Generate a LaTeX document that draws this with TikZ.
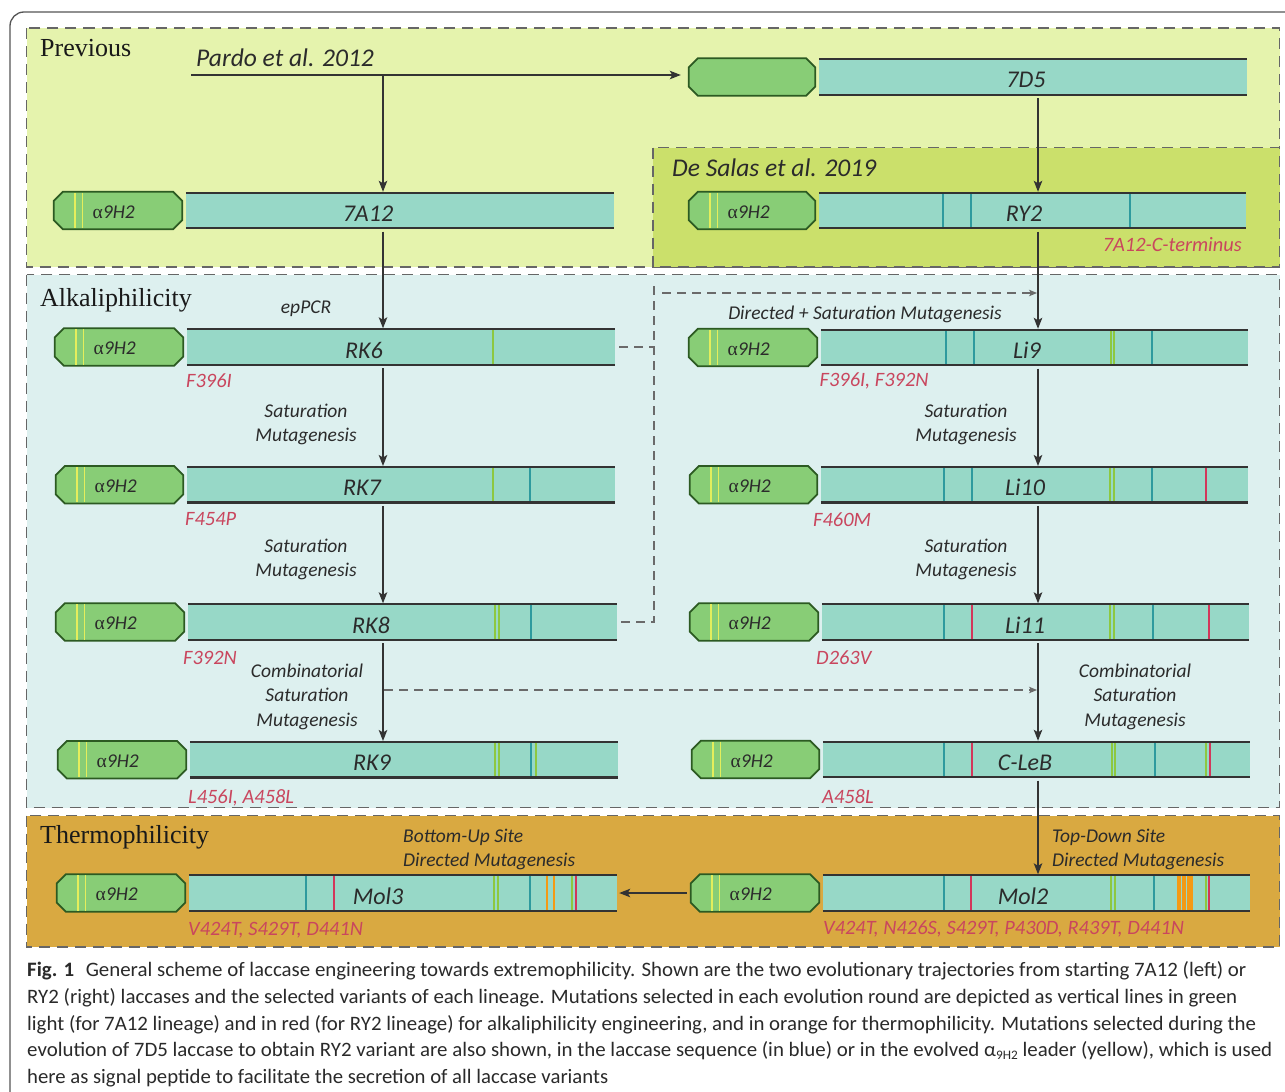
\documentclass[tikz,border=0pt]{standalone}
\usepackage{fontspec}
\usepackage{graphicx}
\setmainfont{Liberation Serif}
\newfontfamily\labfont{Carlito}
\usetikzlibrary{arrows.meta,calc}

\definecolor{prevfill}{HTML}{E5F3AD}
\definecolor{salasfill}{HTML}{CBE06B}
\definecolor{alkfill}{HTML}{DDF0EF}
\definecolor{thermfill}{HTML}{D9A941}
\definecolor{leadfill}{HTML}{88CD76}
\definecolor{leaddraw}{HTML}{2C5A22}
\definecolor{barfill}{HTML}{97D8C7}
\definecolor{bardraw}{HTML}{333333}
\definecolor{mteal}{HTML}{2E9A9E}
\definecolor{mred}{HTML}{D2375A}
\definecolor{mgreen}{HTML}{8DC840}
\definecolor{myellow}{HTML}{E4EE5C}
\definecolor{morange}{HTML}{F39A14}
\definecolor{redtext}{HTML}{C9465E}
\definecolor{regborder}{HTML}{666666}
\definecolor{framecol}{HTML}{555555}
\definecolor{arrowcol}{HTML}{333333}
\definecolor{dashcol}{HTML}{6A6A6A}
\definecolor{captext}{HTML}{2A2A2A}
\definecolor{labtext}{HTML}{2B2B2B}

\tikzset{
  region/.style={draw=regborder, line width=1.8pt, dash pattern=on 11pt off 7pt},
  leadnode/.style={inner sep=0pt, minimum height=37pt, draw=none},
  leadstyle/.style={fill=leadfill, draw=leaddraw, line width=1.8pt, line join=miter},
  yellowline/.style={draw=myellow, line width=1.6pt},
  alphalabel/.style={font=\labfont\itshape\fontsize{19.5}{20}\selectfont, inner sep=0pt, text=labtext},
  barbox/.style={fill=barfill, inner sep=0pt, minimum height=35pt, draw=none},
  barline/.style={draw=bardraw, line width=2.2pt},
  mutline/.style={line width=2pt},
  barlabel/.style={font=\labfont\itshape\fontsize{24}{24}\selectfont, inner sep=0pt, text=labtext},
  small/.style={font=\labfont\itshape\fontsize{19.5}{24.5}\selectfont, inner sep=0pt, align=center, text=labtext},
  mutlabel/.style={font=\labfont\itshape\fontsize{20.4}{24}\selectfont, text=redtext, inner sep=0pt},
  sectitle/.style={font=\fontsize{26}{26}\selectfont, inner sep=0pt, anchor=base west, text=black!90},
  reflabel/.style={font=\labfont\itshape\fontsize{25.5}{26}\selectfont, inner sep=0pt, anchor=base west, text=labtext},
  arr/.style={draw=arrowcol, line width=1.5pt, -{Stealth[length=11pt,width=8.5pt,inset=2.5pt]}, shorten >=1pt},
  arrs/.style={arr, shorten <=3.5pt},
  dline/.style={draw=dashcol, line width=1.2pt, dash pattern=on 9pt off 6pt},
  darr/.style={dline, -{Stealth[length=8pt,width=6.5pt,inset=2pt]}, shorten >=1pt},
  capnode/.style={anchor=base west, inner sep=0pt, font=\labfont\fontsize{20.5}{20.5}\selectfont, text=captext},
}

\newcommand\leadpath[1]{([xshift=9pt]#1.north west) -- ([xshift=-9pt]#1.north east) -- ([yshift=-9pt]#1.north east) -- ([yshift=9pt]#1.south east) -- ([xshift=-9pt]#1.south east) -- ([xshift=9pt]#1.south west) -- ([yshift=9pt]#1.south west) -- ([yshift=-9pt]#1.north west) -- cycle}

% #1 name, #2 leader left, #3 bar left, #4 bar right, #5 centre y, #6 leader kind, #7 mutations, #8 label x, #9 label
\newcommand\laccase[9]{%
  \node[leadnode, minimum width={#3-#2-4}] (#1-L) at ({(#2+#3-4)/2},#5) {};
  \filldraw[leadstyle] \leadpath{#1-L};
  \ifnum#6=1
    \draw[yellowline] ([xshift=21pt,yshift=-1pt]#1-L.north west) -- ([xshift=21pt,yshift=1pt]#1-L.south west);
    \draw[yellowline] ([xshift=28.5pt,yshift=-1pt]#1-L.north west) -- ([xshift=28.5pt,yshift=1pt]#1-L.south west);
    \node[alphalabel] (#1-a) at ([xshift=60pt,yshift=-1.5pt]#1-L.west) {{\rmfamily\upshape α}9H2};
  \fi
  \node[barbox, minimum width={#4-#3}] (#1) at ({(#3+#4)/2},#5) {};
  \foreach \mc/\mx in {#7} {\draw[mutline, draw=\mc] (\mx,#5-17) -- (\mx,#5+17);}
  \draw[barline] (#1.north west) -- (#1.north east) (#1.south west) -- (#1.south east);
  \node[barlabel] (#1-t) at (#8,#5+3) {#9};
}

\begin{document}
\begin{tikzpicture}[x=1pt,y=-1pt]
\useasboundingbox (0,0) rectangle (1285,1092);
\fill[white] (0,0) rectangle (1285,1092);
\clip (0,0) rectangle (1285,1092);
\draw[framecol, line width=1.3pt, rounded corners=14pt] (10,12) rectangle (1320,1130);

% regions
\path[region, fill=prevfill] (26.5,28) rectangle (1279.5,267);
\path[region, fill=salasfill] (653,147.5) rectangle (1279.5,267);
\path[region, fill=alkfill] (26.5,274.5) rectangle (1279.5,807.5);
\path[region, fill=thermfill] (26.5,815.5) rectangle (1279.5,947);

\node[sectitle] (tPrev) at (40,56.5) {Previous};
\node[sectitle] (tAlk) at (40,306) {Alkaliphilicity};
\node[sectitle] (tTher) at (40,843) {Thermophilicity};
\node[reflabel] (pardoT) at (196,66) {Pardo et al. 2012};
\node[reflabel] (salasT) at (672,176) {De Salas et al. 2019};

% left lineage
\laccase{A12}{54}{186}{614}{210.5}{1}{}{368}{7A12}
\laccase{RK6}{55}{187}{615}{347}{1}{mgreen/493}{364}{RK6}
\laccase{RK7}{56}{187}{615}{484.7}{1}{mgreen/493, mteal/530}{362}{RK7}
\laccase{RK8}{56}{188}{617}{622}{1}{mgreen/494.5, mgreen/499, mteal/530.5}{371}{RK8}
\laccase{RK9}{58}{190}{618}{759.7}{1}{mgreen/494.5, mgreen/499, mteal/531.2, mgreen/535.8}{372}{RK9}
\laccase{Mol3}{57}{189}{617}{893}{1}{mteal/306, mred/334, mgreen/494, mgreen/497.5, mteal/530, morange/547, morange/553.5, mgreen/571.5, mred/575.5}{378}{Mol3}

% right lineage
\laccase{D5}{689}{819}{1247}{77}{0}{}{1026}{7D5}
\laccase{RY2}{689}{819}{1246}{210.5}{1}{mteal/943, mteal/970.6, mteal/1129.5}{1024}{RY2}
\laccase{Li9}{689}{821}{1248}{347.5}{1}{mteal/946, mteal/974, mgreen/1110.5, mgreen/1114, mteal/1152}{1027}{Li9}
\laccase{Li10}{690}{821}{1248}{484.7}{1}{mteal/944, mteal/972, mgreen/1109.5, mgreen/1113.5, mteal/1151.5, mred/1206}{1025}{Li10}
\laccase{Li11}{690}{822}{1249}{622}{1}{mteal/944, mred/972, mgreen/1110, mgreen/1114, mteal/1153, mred/1209}{1025}{Li11}
\laccase{CLeB}{692}{823}{1250}{759.5}{1}{mteal/944, mred/972, mgreen/1111.5, mgreen/1115, mteal/1154.5, mgreen/1206, mred/1209.5}{1025}{C-LeB}
\laccase{Mol2}{691}{823}{1250}{893}{1}{mteal/943.5, mred/971, mgreen/1111, mgreen/1115, mteal/1153.5, morange/1177.5, morange/1180, morange/1182.5, morange/1185, morange/1187.5, morange/1190, morange/1192, mgreen/1206, mred/1209}{1023}{Mol2}

% coordinates for connectors
\coordinate (xL) at (383,0);
\coordinate (xR) at (1038,0);
\coordinate (pardo) at (191,75);
\coordinate (dtop) at (654,280);
\coordinate (dh) at (662,293);
\coordinate (cmb) at (384,690);

% solid arrows
\draw[arr, shorten >=8pt] (pardo) -- (pardo -| D5-L.west);
\draw[arr] (pardo -| xL) -- (A12.north -| xL);
\draw[arrs] (A12.south -| xL) -- (RK6.north -| xL);
\draw[arrs] (RK6.south -| xL) -- (RK7.north -| xL);
\draw[arrs] (RK7.south -| xL) -- (RK8.north -| xL);
\draw[arrs] (RK8.south -| xL) -- (RK9.north -| xL);
\draw[arrs] (D5.south -| xR) -- (RY2.north -| xR);
\draw[arrs] (RY2.south -| xR) -- (Li9.north -| xR);
\draw[arrs] (Li9.south -| xR) -- (Li10.north -| xR);
\draw[arrs] (Li10.south -| xR) -- (Li11.north -| xR);
\draw[arrs] (Li11.south -| xR) -- (CLeB.north -| xR);
\draw[arrs] (CLeB.south -| xR) -- (Mol2.north -| xR);
\draw[arr, shorten <=4pt, shorten >=2pt] (Mol2-L.west) -- (Mol2-L.west -| Mol3.east);

% dashed connectors
\draw[dline] ([xshift=4pt]RK6.east) -- (RK6.east -| dtop);
\draw[dline] ([xshift=4pt]RK8.east) -- (RK8.east -| dtop) -- (dtop);
\draw[darr] (dh) -- (dh -| xR);
\draw[darr] (cmb) -- (cmb -| xR);

% process labels
\node[small, anchor=base] (lep) at (306,313) {epPCR};
\node[small] (l1) at (306,424.5) {Saturation\\Mutagenesis};
\node[small] (l2) at (306,559.5) {Saturation\\Mutagenesis};
\node[small] (l3) at (307,696.5) {Combinatorial\\Saturation\\Mutagenesis};
\node[small, anchor=base] (l4) at (865,319) {Directed + Saturation Mutagenesis};
\node[small] (l5) at (966,424.5) {Saturation\\Mutagenesis};
\node[small] (l6) at (966,559.5) {Saturation\\Mutagenesis};
\node[small] (l7) at (1135,696.5) {Combinatorial\\Saturation\\Mutagenesis};
\node[small, anchor=west, align=left] (l8) at (403,849.5) {Bottom-Up Site\\Directed Mutagenesis};
\node[small, anchor=west, align=left] (l9) at (1052,849.5) {Top-Down Site\\Directed Mutagenesis};

% mutation labels
\node[mutlabel, anchor=base east] (m0) at (1242,251) {7A12-C-terminus};
\node[mutlabel, anchor=base west] (m1) at (186,387.5) {F396I};
\node[mutlabel, anchor=base west] (m2) at (185,525.5) {F454P};
\node[mutlabel, anchor=base west] (m3) at (183,664.5) {F392N};
\node[mutlabel, anchor=base west] (m4) at (188,803) {L456I, A458L};
\node[mutlabel, anchor=base west] (m5) at (188,935) {V424T, S429T, D441N};
\node[mutlabel, anchor=base west] (m6) at (819.5,386.5) {F396I, F392N};
\node[mutlabel, anchor=base west] (m7) at (813,526) {F460M};
\node[mutlabel, anchor=base west] (m8) at (816,664) {D263V};
\node[mutlabel, anchor=base west] (m9) at (822,803) {A458L};
\node[mutlabel, anchor=base west] (m10) at (823,934) {V424T, N426S, S429T, P430D, R439T, D441N};

% caption
\node[capnode] (c1) at (27,976) {\resizebox{1219pt}{\height}{\textbf{Fig. 1}\hspace{0.55em}General scheme of laccase engineering towards extremophilicity. Shown are the two evolutionary trajectories from starting 7A12 (left) or}};
\node[capnode] (c2) at (27,1003) {\resizebox{1210pt}{\height}{RY2 (right) laccases and the selected variants of each lineage. Mutations selected in each evolution round are depicted as vertical lines in green}};
\node[capnode] (c3) at (27,1030) {\resizebox{1229pt}{\height}{light (for 7A12 lineage) and in red (for RY2 lineage) for alkaliphilicity engineering, and in orange for thermophilicity. Mutations selected during the}};
\node[capnode] (c4) at (27,1056.5) {\resizebox{1245pt}{\height}{evolution of 7D5 laccase to obtain RY2 variant are also shown, in the laccase sequence (in blue) or in the evolved α\raisebox{-0.35ex}{\fontsize{13}{13}\selectfont 9H2} leader (yellow), which is used}};
\node[capnode] (c5) at (27,1083) {\resizebox{581pt}{\height}{here as signal peptide to facilitate the secretion of all laccase variants}};
\end{tikzpicture}
\end{document}
